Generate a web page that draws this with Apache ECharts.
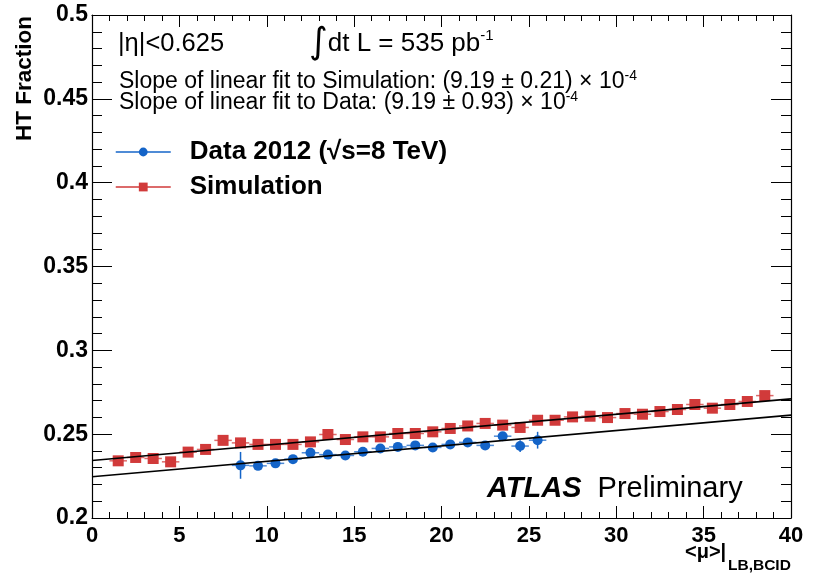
<!DOCTYPE html>
<html><head><meta charset="utf-8">
<script src="https://cdn.jsdelivr.net/npm/echarts@6/dist/echarts.min.js"></script>
<style>html,body{margin:0;padding:0;background:#fff}#c{width:816px;height:574px}</style>
</head><body><div id="c"></div>
<script>
// ---- data ----
const simX = [1.5,2.5,3.5,4.5,5.5,6.5,7.5,8.5,9.5,10.5,11.5,12.5,13.5,14.5,15.5,16.5,17.5,18.5,19.5,20.5,21.5,22.5,23.5,24.5,25.5,26.5,27.5,28.5,29.5,30.5,31.5,32.5,33.5,34.5,35.5,36.5,37.5,38.5];
const simY = [0.2341,0.2361,0.2355,0.2335,0.2393,0.2409,0.2463,0.2448,0.2439,0.2439,0.2439,0.2454,0.2498,0.2468,0.2484,0.2484,0.2504,0.2504,0.2514,0.2534,0.2549,0.2564,0.2554,0.2540,0.2583,0.2583,0.2603,0.2607,0.2599,0.2623,0.2619,0.2635,0.2647,0.2677,0.2655,0.2677,0.2695,0.2730];
const simErr = [0.0008,0.0008,0.0008,0.0008,0.0008,0.0008,0.0008,0.0008,0.0008,0.0008,0.0008,0.0008,0.0008,0.0008,0.0008,0.0008,0.0008,0.0008,0.0008,0.0008,0.0008,0.0008,0.0008,0.0008,0.0008,0.0008,0.0008,0.0008,0.0008,0.0008,0.0008,0.0008,0.0008,0.0008,0.0008,0.0008,0.0008,0.0008];
const dataX = [8.5,9.5,10.5,11.5,12.5,13.5,14.5,15.5,16.5,17.5,18.5,19.5,20.5,21.5,22.5,23.5,24.5,25.5];
const dataY = [0.2314,0.2311,0.2326,0.2351,0.2389,0.2378,0.2373,0.2395,0.2415,0.2424,0.2433,0.2421,0.2439,0.2451,0.2433,0.2488,0.2429,0.2464];
const dataErr = [0.0080,0.0020,0.0015,0.0015,0.0015,0.0010,0.0010,0.0010,0.0010,0.0010,0.0010,0.0010,0.0010,0.0010,0.0012,0.0025,0.0035,0.0050];
const binHalfWidth = 0.5;
const fitSim = [0.2343, 0.000919];   // intercept, slope
const fitData = [0.2246, 0.000919];  // intercept, slope
const fitRange = [0, 40];
const xTickValues = [0,5,10,15,20,25,30,35,40];
const yTickValues = [0.2,0.25,0.3,0.35,0.4,0.45,0.5];

const seriesNames = ['Data 2012 (\u221As=8 TeV)', 'Simulation'];
const blue = '#1464c8', red = '#d13a3a';
const FONT = 'Liberation Sans, Arial, Helvetica, sans-serif';

function pts(xs, ys){ return xs.map((x,i)=>[x, ys[i]]); }
function errPts(xs, ys, es){ return xs.map((x,i)=>[x, ys[i], es[i], binHalfWidth]); }
function fitLine(p){ return fitRange.map(x=>[x, p[0] + p[1]*x]); }

function errRender(color){
  return function(params, api){
    const x = api.value(0), y = api.value(1), e = api.value(2), hw = api.value(3);
    const pL = api.coord([x-hw, y]), pR = api.coord([x+hw, y]);
    const pT = api.coord([x, y+e]), pB = api.coord([x, y-e]);
    return {type:'group', children:[
      {type:'line', shape:{x1:pL[0],y1:pL[1],x2:pR[0],y2:pR[1]}, style:{stroke:color, lineWidth:1.5, opacity:0.75}},
      {type:'line', shape:{x1:pT[0],y1:pT[1],x2:pB[0],y2:pB[1]}, style:{stroke:color, lineWidth:1.5}}
    ]};
  };
}

const axLine = {show:true, onZero:false, lineStyle:{color:'#000', width:1.2}};
function xAx(pos, showLabel){
  return {type:'value', min:0, max:40, interval:5, position:pos,
    axisLine:axLine,
    axisTick:{show:true, inside:true, length:12, lineStyle:{color:'#000', width:1}},
    minorTick:{show:true, splitNumber:5, length:6, lineStyle:{color:'#000', width:1}},
    splitLine:{show:false}, minorSplitLine:{show:false},
    axisLabel:{show:showLabel, fontSize:22, fontWeight:'bold', color:'#000', margin:7, fontFamily:FONT,
      formatter:v=>{ const t = xTickValues.find(tv=>Math.abs(tv-v)<1e-6); return t===undefined ? '' : String(t); }}
  };
}
function yAx(pos, showLabel){
  return {type:'value', min:0.2, max:0.5, interval:0.05, position:pos,
    axisLine:axLine,
    axisTick:{show:true, inside:true, length:20, lineStyle:{color:'#000', width:1}},
    minorTick:{show:true, splitNumber:5, length:10, lineStyle:{color:'#000', width:1}},
    splitLine:{show:false}, minorSplitLine:{show:false},
    axisLabel:{show:showLabel, fontSize:23, fontWeight:'bold', color:'#000', margin:4, fontFamily:FONT,
      formatter:v=>{ const t = yTickValues.find(tv=>Math.abs(tv-v)<1e-6); return t===undefined ? '' : String(t); }}
  };
}

const chart = echarts.init(document.getElementById('c'), null, {renderer:'canvas'});
chart.setOption({
  animation:false,
  backgroundColor:'#fff',
  grid:{left:92, right:25, top:15, bottom:56, outerBoundsMode:'none', containLabel:false},
  xAxis:[xAx('bottom', true), xAx('top', false)],
  yAxis:[yAx('left', true), yAx('right', false)],
  legend:{
    orient:'vertical', left:115, top:139, padding:0, itemWidth:55, itemHeight:11, itemGap:9,
    textStyle:{fontSize:26, fontWeight:'bold', color:'#000', fontFamily:FONT, padding:[0,0,0,14]},
    data:[
      {name:seriesNames[0], lineStyle:{opacity:1, width:1.5, color:blue}},
      {name:seriesNames[1], lineStyle:{opacity:1, width:1.5, color:red}}
    ],
    selectedMode:false
  },
  series:[
    {type:'custom', name:'simErr', xAxisIndex:0, yAxisIndex:0, renderItem:errRender(red),
      data:errPts(simX, simY, simErr), encode:{x:0, y:1}, silent:true, z:2},
    {type:'custom', name:'dataErr', xAxisIndex:0, yAxisIndex:0, renderItem:errRender(blue),
      data:errPts(dataX, dataY, dataErr), encode:{x:0, y:1}, silent:true, z:2},
    {type:'line', name:seriesNames[1], data:pts(simX, simY), symbol:'rect', symbolSize:11, showSymbol:true, showAllSymbol:true,
      itemStyle:{color:red}, lineStyle:{opacity:0, width:0}, z:3, silent:true},
    {type:'line', name:seriesNames[0], data:pts(dataX, dataY), symbol:'circle', symbolSize:10, showSymbol:true, showAllSymbol:true,
      itemStyle:{color:blue}, lineStyle:{opacity:0, width:0}, z:3, silent:true},
    {type:'line', name:'fitSim', data:fitLine(fitSim), symbol:'none', lineStyle:{color:'#000', width:1.6}, z:4, silent:true},
    {type:'line', name:'fitData', data:fitLine(fitData), symbol:'none', lineStyle:{color:'#000', width:1.6}, z:4, silent:true}
  ],
  graphic:[
    {type:'text', x:25, y:16, rotation:Math.PI/2,
      style:{text:'HT Fraction', fontSize:22.5, fontWeight:'bold', fontFamily:FONT, fill:'#000', align:'right', verticalAlign:'middle'}},
    {type:'text', x:685, y:552,
      style:{text:'<\u03bc>|', fontSize:20, fontWeight:'bold', fontFamily:FONT, fill:'#000', align:'left', verticalAlign:'middle'}},
    {type:'text', x:728, y:566,
      style:{text:'LB,BCID', fontSize:15.5, fontWeight:'bold', fontFamily:FONT, fill:'#000', align:'left', verticalAlign:'middle'}},
    {type:'text', x:118, y:44,
      style:{text:'|\u03b7|<0.625', fontSize:25.5, fontFamily:FONT, fill:'#000', align:'left', verticalAlign:'middle'}},
    {type:'text', x:309, y:44,
      style:{text:'{i|\u222b}{n|dt L = 535 pb}{s|-1}', fill:'#000', align:'left', verticalAlign:'middle',
        rich:{i:{fontSize:36, fontFamily:'DejaVu Sans', fill:'#000', lineHeight:32, verticalAlign:'middle'},
              n:{fontSize:26, fontFamily:FONT, fill:'#000', lineHeight:32, verticalAlign:'middle'},
              s:{fontSize:15, fontFamily:FONT, fill:'#000', lineHeight:15, verticalAlign:'top'}}}},
    {type:'text', x:119, y:82,
      style:{text:'{n|Slope of linear fit to Simulation: (9.19 \u00b1 0.21) \u00d7 10}{s|-4}', fill:'#000', align:'left', verticalAlign:'middle',
        rich:{n:{fontSize:23, fontFamily:FONT, fill:'#000', lineHeight:26, verticalAlign:'middle'},
              s:{fontSize:14, fontFamily:FONT, fill:'#000', lineHeight:14, verticalAlign:'top'}}}},
    {type:'text', x:119, y:103,
      style:{text:'{n|Slope of linear fit to Data: (9.19 \u00b1 0.93) \u00d7 10}{s|-4}', fill:'#000', align:'left', verticalAlign:'middle',
        rich:{n:{fontSize:23, fontFamily:FONT, fill:'#000', lineHeight:26, verticalAlign:'middle'},
              s:{fontSize:14, fontFamily:FONT, fill:'#000', lineHeight:14, verticalAlign:'top'}}}},
    {type:'text', x:487, y:489,
      style:{text:'{a|ATLAS}{b|  Preliminary}', fill:'#000', align:'left', verticalAlign:'middle',
        rich:{a:{fontSize:29, fontWeight:'bold', fontStyle:'italic', fontFamily:FONT, fill:'#000'},
              b:{fontSize:29, fontFamily:FONT, fill:'#000'}}}}
  ]
});
</script>
</body></html>
